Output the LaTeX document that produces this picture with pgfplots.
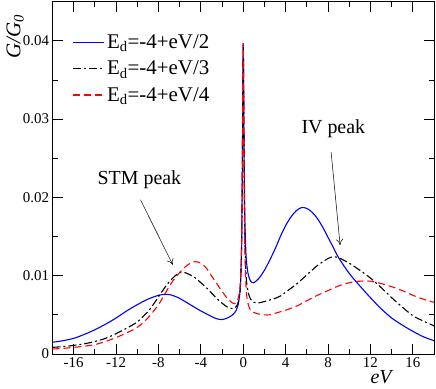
\documentclass[border=0pt]{standalone}
\usepackage{fontspec}
\setmainfont{Liberation Serif}
\usepackage{pgfplots}
\pgfplotsset{compat=1.18}
\usetikzlibrary{arrows.meta}
\definecolor{cblue}{RGB}{0,0,255}
\definecolor{cred}{RGB}{255,0,0}

\begin{document}
\begin{tikzpicture}
\path[use as bounding box] (-52.5bp,-35bp) rectangle (383.5bp,354bp);
\begin{axis}[scale only axis,width=381.5bp,height=352.3bp,
  xmin=-18,xmax=18,ymin=0,ymax=0.045,
  xtick={-16,-12,...,16},minor x tick num=1,
  ytick={0,0.01,0.02,0.03,0.04},minor y tick num=1,
  scaled y ticks=false,
  xticklabel pos=left,yticklabel pos=left,
  major tick length=10bp,minor tick length=5bp,
  axis line style={line width=0.8bp},
  tick style={line width=0.8bp,black},
  /pgf/number format/assume math mode=true,
  yticklabel style={/pgf/number format/fixed,/pgf/number format/precision=2},
  tick label style={font=\fontsize{15}{18}\selectfont},
  xlabel={\textit{eV}},
  xlabel style={at={(axis description cs:0.864,-0.066)},anchor=center,font=\fontsize{20}{24}\selectfont},
  ylabel={\textit{G/G\textsubscript{0}}},
  ylabel style={at={(axis description cs:-0.098,0.9)},anchor=center,font=\fontsize{21}{24}\selectfont},
  legend style={at={(axis description cs:0.045,0.918)},anchor=north west,draw=none,fill=none,
    font=\fontsize{21}{24}\selectfont,row sep=7bp},
  legend cell align=left,
  legend image code/.code={\draw[#1,line width=1.2bp] (0bp,0bp) -- (31bp,0bp);},
]
\addplot[cblue,line width=1.1bp,smooth] coordinates {
(-18,0.0015) (-17,0.0017) (-16,0.0020) (-15,0.0025) (-14,0.0031) (-13,0.0038) (-12,0.0046) (-11,0.0055)
(-10,0.0063) (-9,0.0070) (-8,0.0075) (-7.5,0.0076) (-7,0.0076) (-6.5,0.0074) (-6,0.0071) (-5,0.0063)
(-4,0.0055) (-3,0.0048) (-2.5,0.0045) (-2,0.0044) (-1.5,0.0046) (-1,0.0050) (-0.7,0.0055) (-0.5,0.0062)
(-0.35,0.0074) (-0.25,0.0092) (-0.15,0.0145) (-0.08,0.025) (-0.04,0.034) (0,0.0397) (0.04,0.034)
(0.08,0.026) (0.15,0.0175) (0.25,0.0130) (0.35,0.0112) (0.5,0.0100) (0.7,0.0093) (1,0.0091) (1.5,0.0097)
(2,0.0107) (2.5,0.0120) (3,0.0134) (3.5,0.0150) (4,0.0164) (4.5,0.0175) (5,0.0183) (5.5,0.0187)
(6,0.0186) (6.5,0.0181) (7,0.0173) (7.5,0.0162) (8,0.0149) (8.5,0.0136) (9,0.0123) (10,0.0103)
(11,0.0087) (12,0.0072) (13,0.0058) (14,0.0046) (15,0.0037) (16,0.0029) (17,0.0022) (18,0.0017)};
\addlegendentry{E\textsubscript{d}=-4+eV/2}
\addplot[black,line width=1.1bp,smooth,dash pattern=on 8bp off 3bp on 2bp off 3bp] coordinates {
(-18,0.00085) (-17,0.00095) (-16,0.0011) (-15,0.0013) (-14,0.0016) (-13,0.0020) (-12,0.0026) (-11,0.0033)
(-10,0.0041) (-9,0.0054) (-8.5,0.0063) (-8,0.0073) (-7.5,0.0083) (-7,0.0092) (-6.5,0.0099) (-6,0.0104)
(-5.5,0.0104) (-5,0.0101) (-4.5,0.0097) (-4,0.0091) (-3.5,0.0085) (-3,0.0078) (-2.5,0.0071) (-2,0.0065)
(-1.5,0.0060) (-1,0.0058) (-0.7,0.0060) (-0.5,0.0065) (-0.35,0.0075) (-0.25,0.0092) (-0.15,0.0140)
(-0.08,0.024) (-0.04,0.034) (0,0.0395) (0.04,0.034) (0.08,0.025) (0.15,0.0150) (0.25,0.0105) (0.35,0.0088)
(0.5,0.0077) (0.7,0.0070) (1,0.0066) (1.3,0.0065) (1.7,0.0066) (2,0.0067) (2.5,0.0069) (3,0.0071)
(3.5,0.0074) (4,0.0079) (5,0.0089) (6,0.0101) (7,0.0113) (8,0.0122) (8.5,0.0124) (9,0.0123) (10,0.0116)
(11,0.0107) (12,0.0097) (13,0.0085) (14,0.0072) (15,0.0060) (16,0.0049) (17,0.0042) (18,0.0036)};
\addlegendentry{E\textsubscript{d}=-4+eV/3}
\addplot[cred,line width=1.1bp,smooth,dash pattern=on 7bp off 4bp] coordinates {
(-18,0.00064) (-17,0.00072) (-16,0.00085) (-15,0.0010) (-14,0.0012) (-13,0.0016) (-12,0.0021) (-11,0.0027)
(-10,0.0034) (-9,0.0046) (-8.5,0.0054) (-8,0.0063) (-7.5,0.0074) (-7,0.0086) (-6.5,0.0096) (-6,0.0104)
(-5.5,0.0111) (-5,0.0116) (-4.5,0.0118) (-4,0.0116) (-3.5,0.0110) (-3,0.0100) (-2.5,0.0090) (-2,0.0080)
(-1.5,0.0071) (-1,0.0065) (-0.7,0.0065) (-0.5,0.0070) (-0.35,0.0080) (-0.25,0.0097) (-0.15,0.0145)
(-0.08,0.025) (-0.04,0.034) (0,0.0397) (0.04,0.033) (0.08,0.023) (0.15,0.0135) (0.25,0.0090) (0.35,0.0072)
(0.5,0.0062) (0.7,0.0056) (1,0.0053) (1.5,0.0051) (2,0.0050) (2.5,0.0050) (3,0.0052) (4,0.0056)
(5,0.0061) (6,0.0068) (7,0.0075) (8,0.0081) (9,0.0087) (10,0.0091) (11,0.0093) (12,0.0093) (13,0.0090)
(14,0.0086) (15,0.0081) (16,0.0075) (17,0.0070) (18,0.0066)};
\addlegendentry{E\textsubscript{d}=-4+eV/4}
\node[font=\fontsize{20}{24}\selectfont] at (axis cs:-9.8,0.0222) {STM peak};
\draw[-{To[length=6bp,width=7bp]},line width=0.5bp] (axis cs:-9.7,0.0197) -- (axis cs:-6.65,0.0114);
\node[font=\fontsize{20}{24}\selectfont] at (axis cs:8.5,0.0288) {IV peak};
\draw[-{To[length=6bp,width=7bp]},line width=0.5bp] (axis cs:8.29,0.0258) -- (axis cs:9.14,0.0139);
\end{axis}
\end{tikzpicture}
\end{document}
